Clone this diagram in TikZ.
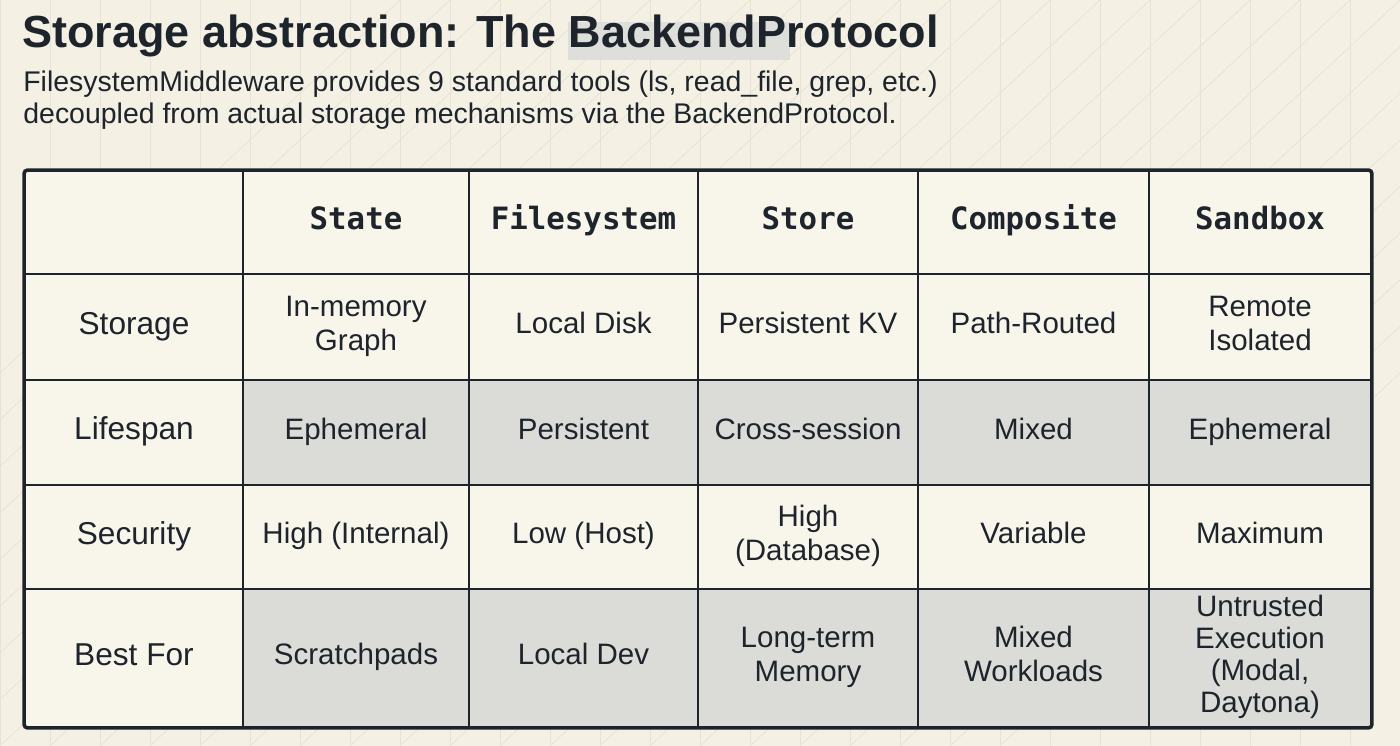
\documentclass[tikz,border=0pt]{standalone}
\usepackage{fontspec}
\setmainfont{Liberation Sans}
\newfontfamily\headfont{DejaVu Sans Mono}
\usetikzlibrary{positioning}

\definecolor{paper}{RGB}{244,240,228}
\definecolor{gridline}{RGB}{230,226,214}
\definecolor{cellcream}{RGB}{248,245,235}
\definecolor{cellgray}{RGB}{219,219,215}
\definecolor{ink}{RGB}{30,36,44}
\definecolor{hilite}{RGB}{222,222,218}

\tikzset{
  cell/.style={draw=ink, line width=1.1pt, minimum height=#1, inner sep=2pt,
    align=center, text=ink, font=\fontsize{16.8}{19}\selectfont},
  rowname/.style={cell=#1, font=\fontsize{18}{20}\selectfont},
  head/.style={cell=2.06cm, font=\headfont\bfseries\fontsize{17.5}{20}\selectfont},
}

\begin{document}
\begin{tikzpicture}[x=0.02cm,y=-0.02cm]
\useasboundingbox (0,0) rectangle (1400,746);
\fill[paper] (0,0) rectangle (1400,746);
% faint lattice in the background
\foreach \i in {0,...,28} {
  \draw[gridline,line width=0.4pt] (\i*50,0) -- (\i*50,746);
  \draw[gridline,line width=0.4pt] (\i*50-400,746) -- (\i*50+400,0);
}
\fill[hilite] (568,22) rectangle (790,60);

\node[anchor=base west,inner sep=0,text=ink,font=\bfseries\fontsize{25.6}{30}\selectfont] (title) at (22,48) {Storage abstraction: The BackendProtocol};
\node[anchor=north west,inner sep=0,text=ink,align=left,font=\fontsize{16.2}{18.2}\selectfont] (sub) at (23,71) {FilesystemMiddleware provides 9 standard tools (ls, read\_file, grep, etc.)\\decoupled from actual storage mechanisms via the BackendProtocol.};

% header row
\node[head, minimum width=4.36cm, fill=cellcream] (h0) at (134,222.5) {};
\node[head, minimum width=4.52cm, fill=cellcream] (h1) at (356,222.5) {\strut State};
\node[head, minimum width=4.58cm, fill=cellcream] (h2) at (583.5,222.5) {\strut Filesystem};
\node[head, minimum width=4.40cm, fill=cellcream] (h3) at (808,222.5) {\strut Store};
\node[head, minimum width=4.62cm, fill=cellcream] (h4) at (1033.5,222.5) {\strut Composite};
\node[head, minimum width=4.44cm, fill=cellcream] (h5) at (1260,222.5) {\strut Sandbox};

% storage row
\node[rowname=2.12cm, minimum width=4.36cm, fill=cellcream] (s0) at (134,327) {\strut Storage};
\node[cell=2.12cm, minimum width=4.52cm, fill=cellcream] (s1) at (356,327) {\strut In-memory\\\strut Graph};
\node[cell=2.12cm, minimum width=4.58cm, fill=cellcream] (s2) at (583.5,327) {\strut Local Disk};
\node[cell=2.12cm, minimum width=4.40cm, fill=cellcream] (s3) at (808,327) {\strut Persistent KV};
\node[cell=2.12cm, minimum width=4.62cm, fill=cellcream] (s4) at (1033.5,327) {\strut Path-Routed};
\node[cell=2.12cm, minimum width=4.44cm, fill=cellcream] (s5) at (1260,327) {\strut Remote\\\strut Isolated};

% lifespan row
\node[rowname=2.10cm, minimum width=4.36cm, fill=cellcream] (l0) at (134,432.5) {\strut Lifespan};
\node[cell=2.10cm, minimum width=4.52cm, fill=cellgray] (l1) at (356,432.5) {\strut Ephemeral};
\node[cell=2.10cm, minimum width=4.58cm, fill=cellgray] (l2) at (583.5,432.5) {\strut Persistent};
\node[cell=2.10cm, minimum width=4.40cm, fill=cellgray] (l3) at (808,432.5) {\strut Cross-session};
\node[cell=2.10cm, minimum width=4.62cm, fill=cellgray] (l4) at (1033.5,432.5) {\strut Mixed};
\node[cell=2.10cm, minimum width=4.44cm, fill=cellgray] (l5) at (1260,432.5) {\strut Ephemeral};

% security row
\node[rowname=2.08cm, minimum width=4.36cm, fill=cellcream] (c0) at (134,537) {\strut Security};
\node[cell=2.08cm, minimum width=4.52cm, fill=cellcream] (c1) at (356,537) {\strut High (Internal)};
\node[cell=2.08cm, minimum width=4.58cm, fill=cellcream] (c2) at (583.5,537) {\strut Low (Host)};
\node[cell=2.08cm, minimum width=4.40cm, fill=cellcream] (c3) at (808,537) {\strut High\\\strut (Database)};
\node[cell=2.08cm, minimum width=4.62cm, fill=cellcream] (c4) at (1033.5,537) {\strut Variable};
\node[cell=2.08cm, minimum width=4.44cm, fill=cellcream] (c5) at (1260,537) {\strut Maximum};

% best-for row
\node[rowname=2.76cm, minimum width=4.36cm, fill=cellcream] (b0) at (134,658) {\strut Best For};
\node[cell=2.76cm, minimum width=4.52cm, fill=cellgray] (b1) at (356,658) {\strut Scratchpads};
\node[cell=2.76cm, minimum width=4.58cm, fill=cellgray] (b2) at (583.5,658) {\strut Local Dev};
\node[cell=2.76cm, minimum width=4.40cm, fill=cellgray] (b3) at (808,658) {\strut Long-term\\\strut Memory};
\node[cell=2.76cm, minimum width=4.62cm, fill=cellgray] (b4) at (1033.5,658) {\strut Mixed\\\strut Workloads};
\node[cell=2.76cm, minimum width=4.44cm, fill=cellgray, font=\fontsize{16.8}{17}\selectfont] (b5) at (1260,658) {\strut Untrusted\\\strut Execution\\\strut (Modal,\\\strut Daytona)};

\draw[ink,line width=2pt,rounded corners=2pt] (h0.north west) rectangle (b5.south east);
\end{tikzpicture}
\end{document}
